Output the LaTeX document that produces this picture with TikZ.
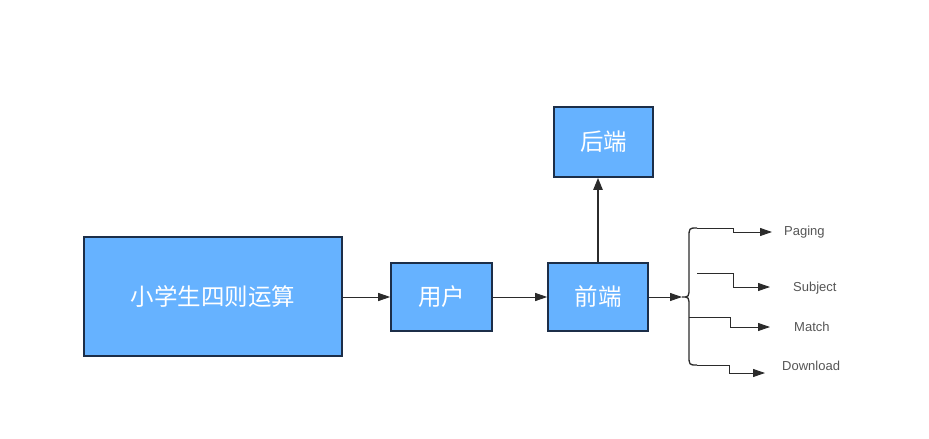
\documentclass[tikz,border=0pt]{standalone}
\usepackage{fontspec}
\setmainfont{Liberation Sans}
\newfontfamily\cjk{Noto Sans CJK SC}
\usetikzlibrary{arrows.meta}
\definecolor{boxfill}{HTML}{66B2FF}
\definecolor{boxline}{HTML}{1C2E48}
\definecolor{linec}{HTML}{2B2B2B}
\definecolor{labc}{HTML}{555555}
\begin{document}
\begin{tikzpicture}[x=1pt,y=-1pt,
  box/.style={draw=boxline,line width=1.6pt,fill=boxfill,inner sep=0pt,text=white,font=\cjk\fontsize{23.5}{26}\selectfont},
  conn/.style={draw=linec,line width=0.9pt,-{Triangle[length=12pt,width=8pt]}},
  plain/.style={draw=linec,line width=1.3pt},
  lab/.style={text=labc,font=\fontsize{13}{15}\selectfont,anchor=west,inner sep=0pt}]
\useasboundingbox (0,0) rectangle (929,439);
\node[box,minimum width=258pt,minimum height=119pt] (main) at (213,296.5) {小学生四则运算};
\node[box,minimum width=101pt,minimum height=68pt] (user) at (441.5,297) {用户};
\node[box,minimum width=100pt,minimum height=68pt] (front) at (598,297) {前端};
\node[box,minimum width=99pt,minimum height=70pt] (back) at (603.5,142) {后端};
\draw[conn] (main.east |- user.west) -- (user.west);
\draw[conn] (user.east) -- (front.west);
\draw[draw=linec,line width=2.2pt,-{Triangle[length=12pt,width=9pt]}] (front.north) -- (front.north |- back.south);
% brace
\coordinate (tip) at (682,297);
\coordinate (btop) at (697,228);
\coordinate (bbot) at (697,365);
\coordinate (bmatch) at (689,317);
\coordinate (ssub) at (697,273);
\draw[conn] (front.east) -- (tip);
\draw[plain] (btop) .. controls (689,228) .. (689,238) -- (689,287) .. controls (689,297) .. (tip)
  .. controls (689,297) .. (689,307) -- (689,355) .. controls (689,365) .. (bbot);
% labels
\node[lab] (paging) at (784,232) {Paging};
\node[lab] (subject) at (793,288) {Subject};
\node[lab] (match) at (794,327) {Match};
\node[lab] (download) at (782,366) {Download};
\coordinate (tpag) at (772,232);
\coordinate (tsub) at (770,287);
\coordinate (tmat) at (770,327);
\coordinate (tdow) at (765,373);
\draw[conn] (btop) -- (733,228) -- (733,232) -- (tpag);
\draw[conn] (ssub) -- (733,273) -- (733,287) -- (tsub);
\draw[conn] (bmatch) -- (730,317) -- (730,327) -- (tmat);
\draw[conn] (bbot) -- (729,365) -- (729,373) -- (tdow);
\end{tikzpicture}
\end{document}
